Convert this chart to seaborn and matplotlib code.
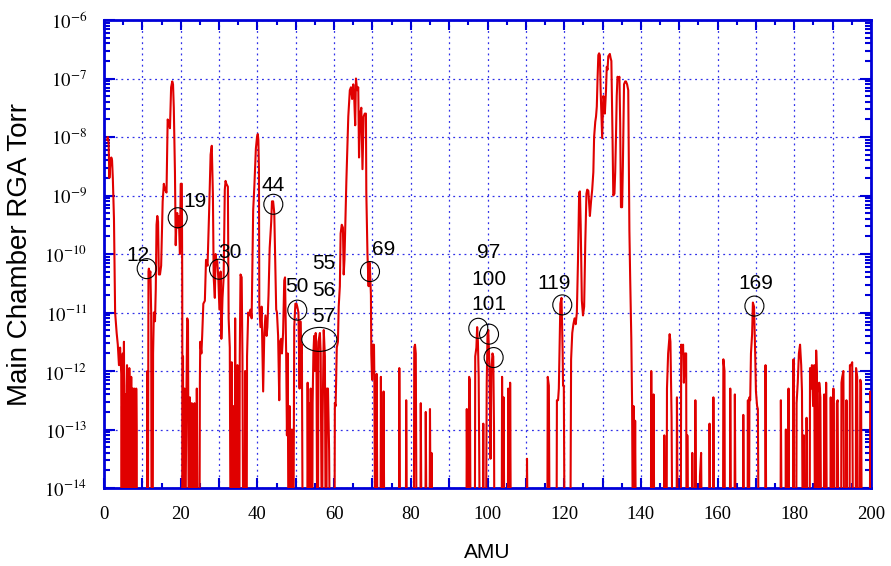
import numpy as np
import pandas as pd
import matplotlib
matplotlib.use("Agg")
import matplotlib.pyplot as plt
import seaborn as sns
from matplotlib.patches import Ellipse
import matplotlib.transforms as mtransforms
from matplotlib.ticker import MultipleLocator, LogLocator, FuncFormatter, NullFormatter

plt.rcParams["mathtext.fontset"] = "stix"

# ---------------- data: AMU and log10(pressure / Torr); -15 = below axis ----------------
amu_a = [0.8, 1.0, 1.2, 1.4, 1.6, 1.9, 2.1, 2.3, 2.6, 2.9,
         3.3, 3.6, 3.9, 4.2, 4.5, 4.6, 4.7, 4.8, 4.9, 5.0,
         5.1, 5.2, 5.3, 5.4, 5.5, 5.6, 5.7, 5.8, 5.9, 6.0,
         6.1, 6.2, 6.3, 6.4, 6.5, 6.6, 6.7, 6.8, 6.9, 7.0,
         7.1, 7.2, 7.3, 7.4, 7.5, 7.6, 7.7, 7.8, 7.9, 8.0,
         8.1, 8.2, 8.3, 8.4, 8.5, 8.6]
logp_a = [-8.05, -8.0, -8.1, -8.7, -8.5, -8.35, -8.4, -8.7, -9.4, -11.0,
          -11.35, -11.55, -11.9, -11.6, -12.05, -15, -12.6, -15, -11.7, -12.3,
          -15, -11.5, -13.0, -15, -12.4, -15, -12.9, -15, -12.25, -11.9,
          -15, -12.6, -15, -12.2, -15, -11.95, -12.8, -15, -12.5, -15,
          -12.1, -15, -12.7, -15, -12.3, -15, -12.6, -15, -12.3, -12.9,
          -15, -12.4, -15, -12.3, -13.0, -15]

amu_b = [11.2, 11.3, 11.45, 11.6, 11.7, 11.9, 12.1, 12.3, 12.4, 12.7,
         12.8, 13.0, 13.3, 13.5, 13.7, 13.9, 14.1, 14.3, 14.6, 14.9,
         15.3, 15.6, 15.9, 16.3, 16.6, 16.9, 17.2, 17.5, 17.8, 18.0,
         18.2, 18.5, 18.7, 18.9, 19.1, 19.3, 19.5, 19.8, 20.0, 20.3,
         20.4, 20.5]
logp_b = [-15, -12.0, -15, -10.3, -10.25, -10.35, -10.3, -11.0, -15, -15,
          -11.7, -11.0, -11.15, -10.6, -9.5, -9.35, -9.45, -10.35, -10.35, -10.2,
          -9.1, -8.8, -8.9, -8.95, -7.7, -7.75, -7.85, -7.15, -7.05, -7.1,
          -7.5, -8.6, -9.85, -9.4, -9.3, -9.55, -9.35, -10.0, -8.8, -8.8,
          -10.5, -15]

amu_c = [20.6, 20.75, 21.0, 21.2, 21.5, 21.7, 21.9, 22.1, 22.4, 22.6,
         22.9, 23.1, 23.5, 23.6, 23.8, 24.1, 24.2, 24.4, 24.9, 25.0,
         25.1, 25.4, 25.6, 25.9, 26.3, 26.6, 27.0, 27.4, 27.8, 28.1,
         28.4, 28.6, 28.9, 29.1, 29.3, 29.5, 29.8, 30.1, 30.4, 30.6,
         30.9, 31.2, 31.5, 31.7, 31.9, 32.3, 32.5, 32.8, 33.0]
logp_c = [-11.75, -15, -12.3, -15, -12.35, -11.1, -11.15, -15, -12.45, -15,
          -12.55, -15, -15, -12.55, -15, -15, -12.3, -15, -15, -12.2,
          -11.5, -11.7, -11.4, -10.85, -10.8, -10.1, -10.2, -9.3, -8.3, -8.15,
          -9.0, -10.4, -10.75, -10.0, -10.15, -10.1, -10.4, -10.95, -10.3, -11.45,
          -10.75, -10.4, -8.9, -8.75, -8.8, -8.85, -11.1, -11.6, -15]

amu_d = [33.2, 33.3, 33.5, 33.7, 33.8, 34.0, 34.1, 34.2, 34.4, 34.7,
         34.8, 35.0, 35.3, 35.4, 35.6, 35.9, 36.1, 36.3, 36.7, 36.8,
         37.0, 37.2, 37.3, 37.6, 37.9, 38.2, 38.5, 38.9, 39.2, 39.6,
         39.9, 40.1, 40.25, 40.4, 40.5, 40.8, 41.1, 41.5, 41.8, 42.1,
         42.4, 42.6, 42.9, 43.2, 43.6, 43.8, 44.1, 44.4, 44.6, 44.9,
         45.1, 45.4, 45.7, 45.9, 46.2, 46.4, 46.7, 47.0, 47.2, 47.5,
         47.7, 47.9, 48.1, 48.3, 48.4, 48.6, 48.9, 49.0, 49.2]
logp_d = [-15, -11.85, -15, -15, -12.6, -15, -15, -11.1, -15, -15,
          -11.9, -15, -15, -11.75, -10.35, -10.4, -11.75, -15, -15, -12.0,
          -15, -15, -11.75, -11.0, -11.05, -10.95, -11.1, -9.25, -8.85, -8.2,
          -8.0, -7.95, -8.05, -8.55, -10.9, -11.25, -10.9, -12.35, -11.35, -11.05,
          -11.4, -11.25, -10.7, -9.9, -9.45, -9.1, -9.1, -9.3, -10.0, -10.95,
          -11.0, -11.4, -12.5, -11.5, -11.45, -11.7, -11.35, -10.45, -10.4, -11.7,
          -13.1, -11.7, -15, -15, -12.6, -15, -15, -13.0, -15]

amu_e = [49.4, 49.6, 49.9, 50.2, 50.4, 50.7, 51.0, 51.2, 51.4, 51.6,
         51.8, 53.0, 53.1, 53.3, 53.4, 53.5, 53.7, 53.8, 53.9, 54.1,
         54.3, 54.4, 54.6, 54.8, 55.0, 55.2, 55.4, 55.6, 55.8, 55.9,
         56.3, 56.5, 56.8, 56.9, 57.0, 57.3, 57.6, 57.8, 58.0, 58.1,
         58.4, 58.7, 58.9]
logp_e = [-15, -11.25, -10.85, -10.85, -10.9, -11.0, -12.3, -11.15, -11.7, -11.55,
          -15, -15, -12.2, -15, -15, -12.55, -15, -15, -12.3, -15,
          -15, -12.55, -11.7, -11.4, -12.0, -11.35, -11.7, -15, -15, -11.5,
          -11.35, -11.7, -15, -15, -12.85, -11.3, -11.75, -15, -15, -12.3,
          -12.3, -13.35, -15]

amu_f = [60.1, 60.2, 60.4, 60.7, 61.0, 61.2, 61.5, 61.7, 62.0, 62.3,
         62.5, 62.7, 63.0, 63.2, 63.5, 63.7, 64.1, 64.4, 64.7, 65.0,
         65.2, 65.5, 65.7, 66.0, 66.3, 66.5, 66.8, 67.1, 67.4, 67.7,
         68.0, 68.3, 68.4, 68.7, 69.0, 69.1, 69.3, 69.6, 69.7, 69.9,
         70.1, 70.4, 70.5, 70.7]
logp_f = [-15, -12.55, -12.6, -11.6, -11.5, -10.9, -10.55, -9.65, -9.5, -9.55,
          -10.35, -10.1, -9.3, -8.75, -8.1, -7.65, -7.2, -7.15, -7.35, -7.1,
          -7.25, -7.8, -7.0, -7.2, -7.15, -8.35, -7.6, -7.5, -8.55, -7.65,
          -7.6, -7.6, -8.95, -10.0, -10.55, -10.2, -10.15, -10.7, -11.7, -12.15,
          -11.55, -11.55, -12.15, -15]

amu_g = [71.0, 71.1, 71.3, 72.1, 72.2, 72.4, 72.8, 72.9, 73.1, 76.9,
         77.0, 77.2, 78.7, 78.8, 79.0, 80.8, 80.9, 81.1, 81.3, 81.5,
         82.5, 82.6, 82.8, 83.8, 83.9, 84.1, 84.9, 85.0, 85.2, 85.3,
         85.4, 85.6]
logp_g = [-15, -12.05, -15, -15, -12.1, -15, -15, -12.35, -15, -15,
          -11.95, -15, -15, -12.5, -15, -15, -11.6, -11.55, -11.7, -15,
          -15, -12.55, -15, -15, -12.7, -15, -15, -12.65, -15, -15,
          -13.4, -15]

amu_h = [94.5, 94.6, 94.8, 95.1, 95.2, 95.4, 95.6, 96.7, 96.8, 97.1,
         97.3, 97.5, 97.7, 97.8, 98.0, 98.8, 98.9, 99.0, 99.6, 99.8,
         100.0, 100.2, 100.5, 100.8, 101.0, 101.3, 101.5, 101.7, 101.8, 103.7,
         103.8, 104.0, 104.1, 104.2, 104.4, 105.3, 105.4, 105.6, 105.8, 105.9,
         106.1, 110.2, 110.3, 110.5]
logp_h = [-15, -12.65, -15, -15, -12.1, -12.15, -15, -15, -11.75, -11.6,
          -11.25, -11.5, -12.1, -13.0, -15, -15, -12.9, -15, -15, -12.2,
          -11.4, -11.3, -11.9, -13.5, -12.0, -11.7, -11.75, -13.0, -15, -15,
          -12.1, -15, -15, -12.45, -15, -15, -12.3, -15, -15, -12.2,
          -15, -15, -13.5, -15]

amu_i = [115.6, 115.7, 116.0, 116.2, 118.0, 118.1, 118.4, 118.6, 118.8, 119.0,
         119.3, 119.6, 119.7, 119.9, 120.1, 121.6]
logp_i = [-15, -12.1, -12.25, -15, -15, -12.5, -12.5, -12.3, -11.55, -10.85,
          -10.75, -11.7, -12.25, -12.25, -15, -15]

amu_j = [121.8, 122.1, 122.4, 122.7, 123.0, 123.3, 123.6, 123.9, 124.1, 124.3,
         124.6, 124.9, 125.2, 125.5, 125.8, 126.0, 126.3, 126.7, 127.0, 127.3,
         127.6, 127.8, 128.1, 128.3, 128.5, 128.7, 128.9, 129.1, 129.3, 129.5,
         129.9, 130.2, 130.4, 130.6, 130.9, 131.1, 131.3, 131.5, 131.7, 131.9,
         132.1, 132.3, 132.6, 132.8, 133.1, 133.3, 133.5, 133.7, 133.9, 134.2,
         134.4, 134.6, 134.8, 135.1, 135.3, 135.6, 135.9, 136.1, 136.4, 136.7,
         137.0, 137.2, 137.5, 137.7, 137.9, 138.1, 138.3, 138.5, 138.7]
logp_j = [-11.8, -11.35, -11.2, -11.1, -11.2, -11.0, -10.1, -8.95, -8.93, -9.5,
          -10.8, -11.05, -10.9, -9.8, -8.97, -8.9, -8.92, -9.35, -9.1, -8.9,
          -8.6, -8.0, -7.74, -7.65, -7.48, -7.0, -6.6, -6.57, -6.6, -7.2,
          -8.02, -7.3, -7.35, -7.6, -7.2, -6.8, -6.85, -6.62, -6.6, -6.58,
          -6.65, -6.7, -8.0, -9.0, -8.97, -8.6, -8.0, -7.3, -6.97, -7.0,
          -6.97, -7.77, -9.2, -9.2, -8.5, -7.1, -7.05, -7.05, -7.1, -7.2,
          -9.6, -10.4, -11.45, -12.55, -15, -12.6, -15, -12.85, -15]

amu_k = [142.6, 142.7, 142.9, 143.2, 143.3, 143.5, 146.0, 146.1, 146.3, 146.7,
         146.8, 147.1, 147.5, 147.7, 148.0, 148.2, 149.3, 149.4, 149.6, 150.4]
logp_k = [-15, -12.0, -15, -15, -12.4, -15, -15, -13.1, -15, -15,
          -12.3, -11.7, -11.37, -11.5, -12.8, -15, -15, -12.45, -15, -15]

amu_l = [150.5, 150.7, 151.0, 151.2, 151.5, 151.8, 151.9, 152.0, 152.1, 152.3,
         153.3, 153.4, 153.6, 154.1, 154.2, 154.4, 155.3, 155.4, 155.7, 155.9,
         157.8, 157.9, 158.1, 158.8, 158.9, 159.1, 161.4, 161.5, 161.8, 161.9,
         163.2, 163.3, 163.5, 164.4, 164.5, 164.7, 166.6, 166.7, 166.9, 167.8,
         167.9, 168.0, 168.2, 168.3, 168.5, 168.7, 169.0, 169.2, 169.5, 169.8,
         170.0, 170.3, 170.5, 170.7]
logp_l = [-11.55, -11.7, -11.55, -12.2, -11.7, -11.7, -15, -15, -13.1, -15,
          -15, -13.4, -15, -15, -12.5, -15, -15, -13.8, -13.4, -15,
          -15, -12.9, -15, -15, -12.45, -15, -15, -11.8, -12.0, -15,
          -15, -12.3, -15, -15, -12.4, -15, -15, -12.75, -15, -15,
          -12.5, -15, -15, -12.45, -12.5, -11.7, -11.37, -10.83, -10.9, -11.7,
          -12.35, -12.6, -12.65, -15]

amu_m = [172.4, 172.5, 172.7, 176.4, 176.5, 176.7, 177.7, 177.8, 177.9, 178.0,
         178.1, 178.2, 178.4, 178.5, 178.6, 179.7, 179.8, 179.9, 180.5, 180.6,
         180.9, 181.2, 181.5, 181.8, 182.0, 182.2, 182.4, 182.5, 182.7, 183.1,
         183.2, 183.4, 184.0, 184.1, 184.4, 184.6, 184.9, 185.2, 185.4, 185.6,
         185.7, 185.9, 186.1, 186.4, 186.5, 186.8, 187.0, 187.7, 187.8, 188.0,
         188.2, 188.3, 188.5, 189.4, 189.5, 189.7, 190.1, 190.2, 190.4, 191.0,
         191.1, 191.3, 191.5, 192.2, 192.3, 192.5, 192.8, 193.0, 193.5, 193.6,
         193.8, 194.4, 194.5, 194.8, 195.1, 195.3, 196.0, 196.1, 196.4, 196.6,
         197.1, 197.2, 197.4, 197.6, 199.7, 199.8, 200.0]
logp_m = [-15, -11.9, -15, -15, -12.5, -15, -15, -13.0, -15, -15,
          -13.65, -15, -15, -12.3, -15, -15, -11.8, -15, -15, -12.55,
          -12.2, -11.7, -11.55, -11.9, -12.35, -15, -15, -13.1, -15, -15,
          -12.8, -15, -15, -11.95, -12.3, -11.9, -12.6, -11.9, -15, -15,
          -11.65, -12.1, -15, -15, -12.2, -12.45, -15, -15, -12.4, -15,
          -15, -12.2, -15, -15, -12.45, -15, -15, -12.3, -15, -15,
          -12.55, -12.5, -15, -15, -12.2, -12.1, -12.0, -15, -15, -12.5,
          -15, -15, -11.9, -11.9, -11.85, -15, -15, -11.95, -12.1, -15,
          -15, -12.15, -12.2, -15, -15, -12.35, -12.5]

segments = [(amu_a, logp_a), (amu_b, logp_b), (amu_c, logp_c), (amu_d, logp_d),
            (amu_e, logp_e), (amu_f, logp_f), (amu_g, logp_g), (amu_h, logp_h),
            (amu_i, logp_i), (amu_j, logp_j), (amu_k, logp_k), (amu_l, logp_l),
            (amu_m, logp_m)]
for i, (a, l) in enumerate(segments):
    assert len(a) == len(l), (i, len(a), len(l))

amu = [v for a, _ in segments for v in a]
log_p = [v for _, l in segments for v in l]
df = pd.DataFrame({"AMU": amu, "Torr": 10.0 ** np.array(log_p)})

# peak labels: (text, x, log10 y)
label_text = ["12", "19", "30", "44", "50", "55", "56", "57", "69", "97", "100", "101", "119", "169"]
label_x = [8.9, 23.7, 32.9, 44.1, 50.4, 57.4, 57.4, 57.4, 73.0, 100.4, 100.4, 100.4, 117.4, 169.9]
label_y = [-10.03, -9.10, -9.98, -8.83, -10.56, -10.17, -10.62, -11.06, -9.93, -9.97, -10.43, -10.87, -10.50, -10.50]

# rings around peaks: (x, log10 y, width px, height px)
ring_x = [11.13, 19.22, 29.99, 44.15, 50.4, 56.14, 69.36, 97.6, 100.4, 101.6, 119.5, 169.6]
ring_y = [-10.25, -9.38, -10.26, -9.15, -10.96, -11.46, -10.30, -11.27, -11.37, -11.77, -10.87, -10.89]
ring_w = [19, 19, 19, 19, 19, 35, 19, 19, 19, 19, 19, 19]
ring_h = [20, 20, 20, 20, 20, 24, 20, 20, 20, 20, 20, 20]

# ---------------- figure ----------------
BLUE = "#0000d8"
GRID = "#3030e8"
RED = "#e00000"
DPI = 100

fig = plt.figure(figsize=(8.91, 5.66), dpi=DPI)
ax = fig.add_axes([104 / 891, 1 - 488 / 566, 767 / 891, 468 / 566])

sns.lineplot(data=df, x="AMU", y="Torr", estimator=None, sort=False,
             color=RED, lw=1.5, ax=ax, zorder=3)
ax.set_yscale("log")
ax.set_xlim(0, 200)
ax.set_ylim(1e-14, 1e-6)

ax.xaxis.set_major_locator(MultipleLocator(10))
ax.xaxis.set_minor_locator(MultipleLocator(5))
ax.xaxis.set_major_formatter(FuncFormatter(
    lambda v, p: f"{int(round(v))}" if int(round(v)) % 20 == 0 else ""))
ax.yaxis.set_major_locator(LogLocator(base=10, numticks=20))
ax.yaxis.set_minor_locator(LogLocator(base=10, subs=np.arange(2, 10), numticks=20))
ax.yaxis.set_major_formatter(FuncFormatter(lambda v, p: r"$10^{%d}$" % round(np.log10(v))))
ax.yaxis.set_minor_formatter(NullFormatter())

ax.tick_params(axis="both", which="both", direction="in", top=True, right=True,
               color=BLUE, width=1.5, labelsize=13.5, labelfontfamily="Liberation Serif",
               labelcolor="black")
ax.tick_params(axis="y", which="major", length=8, pad=12)
ax.tick_params(axis="y", which="minor", length=4)
ax.tick_params(axis="x", which="major", length=7, pad=13)
ax.tick_params(axis="x", which="minor", length=3.6)

ax.grid(which="major", color=GRID, linestyle=(0, (1.5, 3)), lw=0.9)
ax.set_axisbelow(True)
for s in ax.spines.values():
    s.set_color(BLUE)
    s.set_linewidth(2)

ax.set_xlabel("AMU", fontsize=15, family="Liberation Sans", va="center")
ax.xaxis.set_label_coords((487 - 104) / 767, (488 - 552) / 468)
ax.set_ylabel("Main Chamber RGA Torr", fontsize=20, family="Liberation Sans", va="center")
ax.yaxis.set_label_coords((20 - 104) / 767, 0.5)

for t, x, y in zip(label_text, label_x, label_y):
    ax.text(x, 10.0 ** y, t, ha="center", va="center", fontsize=15,
            family="Liberation Sans", color="black", zorder=5)

for x, y, w, h in zip(ring_x, ring_y, ring_w, ring_h):
    tr = fig.dpi_scale_trans + mtransforms.ScaledTranslation(x, 10.0 ** y, ax.transData)
    ax.add_patch(Ellipse((0, 0), w / DPI, h / DPI, transform=tr, fill=False,
                         ec="black", lw=0.8, zorder=5))

ax.set_xlim(0, 200)
ax.set_ylim(1e-14, 1e-6)
fig.savefig("out.png", dpi=DPI)
